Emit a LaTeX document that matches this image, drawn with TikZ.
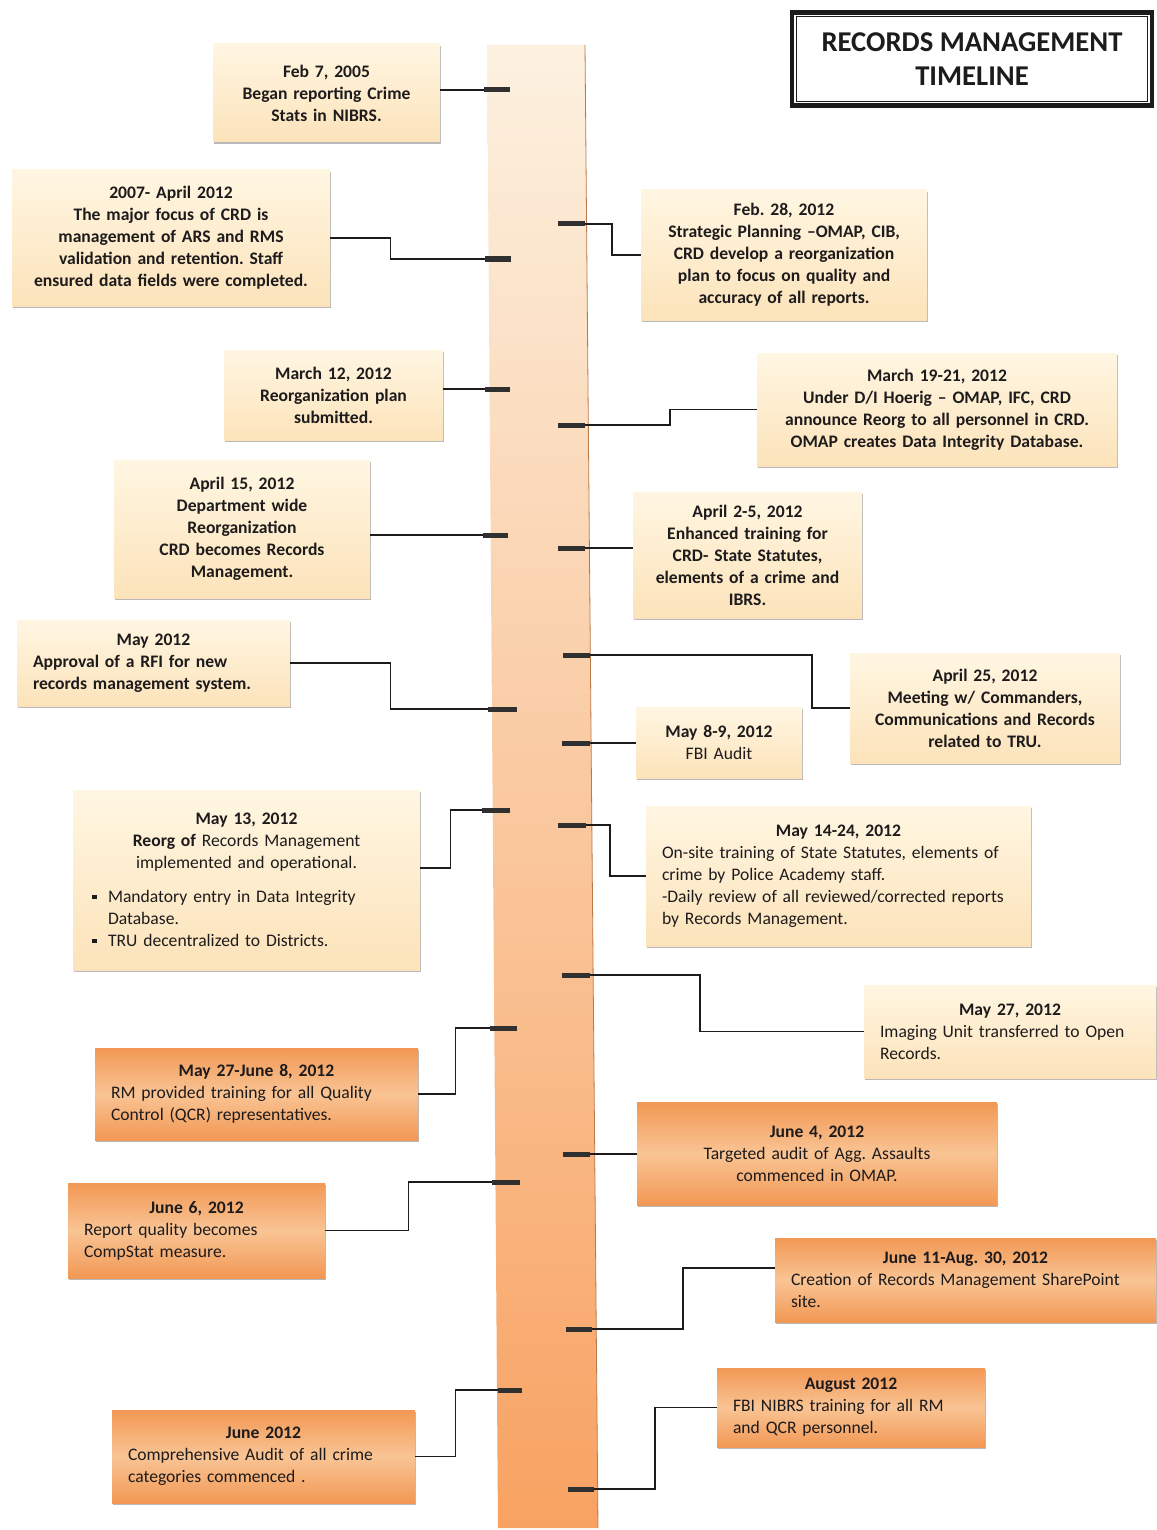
\documentclass[tikz,border=0pt]{standalone}
\usepackage{fontspec}
\setmainfont{Carlito}
\usetikzlibrary{shadows}
\definecolor{ink}{RGB}{30,27,28}
\definecolor{creamtop}{RGB}{255,246,226}
\definecolor{creambot}{RGB}{252,227,186}
\definecolor{orangeedge}{RGB}{242,152,84}
\definecolor{orangemid}{RGB}{249,196,148}
\definecolor{bartop}{RGB}{252,241,224}
\definecolor{barbot}{RGB}{248,162,98}
\definecolor{tickgray}{RGB}{48,48,48}
\newcommand{\when}[1]{{\centering\textbf{#1}\par}}
\newcommand{\sq}{\raisebox{2.5pt}{\rule{3.5pt}{3.5pt}}}
\tikzset{
  event/.style={inner xsep=12pt, inner ysep=4pt, text=ink,
    font=\fontsize{13.2}{16.5}\selectfont,
    drop shadow={shadow xshift=1pt, shadow yshift=-1.5pt, opacity=.55}},
  pale/.style={event, top color=creamtop, bottom color=creambot},
  hot/.style={event, top color=orangeedge, bottom color=orangeedge, middle color=orangemid},
  tickmark/.style={tickgray, line width=3.75pt},
  link/.style={ink, line width=1.1pt},
}
\frenchspacing

\begin{document}
\begin{tikzpicture}[x=0.75pt,y=-0.75pt]
                \useasboundingbox (0,0) rectangle (1156,1530);
                \shade[top color=bartop, bottom color=barbot] (487,45) -- (585,45) -- (598,1528) -- (498,1528) -- cycle;
                \draw[barbot!75!black, line width=0.6pt] (585,45) -- (598,1528);

                \node[draw=ink, line width=3.5pt, fill=white, minimum width=270pt, minimum height=70pt, align=center, font=\fontsize{21.5}{25.5}\selectfont\bfseries, text=ink] (title) at (972,59) {RECORDS MANAGEMENT\\TIMELINE};
                \draw[ink, line width=1pt] ([xshift=5pt,yshift=-5pt]title.north west) rectangle ([xshift=-5pt,yshift=5pt]title.south east);

                \node[pale, text width=146.25pt, minimum height=73.5pt, align=center] (feb05) at (326.5,93) {\bfseries\when{Feb 7, 2005}Began reporting Crime\\Stats in NIBRS.};
                \node[pale, text width=214.5pt, minimum height=102pt, align=center] (crd07) at (171,238) {\bfseries\when{2007- April 2012}The major focus of CRD is\\management of ARS and RMS\\validation and retention. Staff\\ensured data fields were completed.};
                \node[pale, text width=190.5pt, minimum height=97.5pt, align=center] (feb28) at (784,255) {\bfseries\when{Feb. 28, 2012}Strategic Planning –OMAP, CIB,\\CRD develop a reorganization\\plan to focus on quality and\\accuracy of all reports.};
                \node[pale, text width=140.25pt, minimum height=67.5pt, align=center] (mar12) at (333.5,395) {\bfseries\when{March 12, 2012}Reorganization plan\\submitted.};
                \node[pale, text width=246pt, minimum height=84.75pt, align=center] (mar19) at (937,409.5) {\bfseries\when{March 19-21, 2012}Under D/I Hoerig – OMAP, IFC, CRD\\announce Reorg to all personnel in CRD.\\OMAP creates Data Integrity Database.};
                \node[pale, text width=168pt, minimum height=103.5pt, align=center] (apr15) at (242,529) {\bfseries\when{April 15, 2012}Department wide\\Reorganization\\CRD becomes Records\\Management.};
                \node[pale, text width=147.75pt, minimum height=94.5pt, align=center] (apr02) at (747.5,555) {\bfseries\when{April 2-5, 2012}Enhanced training for\\CRD- State Statutes,\\elements of a crime and\\IBRS.};
                \node[pale, text width=180.75pt, minimum height=64.5pt, align=left] (may12) at (153.5,663) {\bfseries\when{May 2012}Approval of a RFI for new\\records management system.};
                \node[pale, text width=178.5pt, minimum height=82.5pt, align=center] (apr25) at (985,708) {\bfseries\when{April 25, 2012}Meeting w/ Commanders,\\Communications and Records\\related to TRU.};
                \node[pale, text width=100.5pt, minimum height=53.25pt, align=center] (may08) at (719,742.5) {\when{May 8-9, 2012}FBI Audit};
                \node[pale, text width=236.25pt, minimum height=135pt, align=left] (may13) at (246.5,880) {\when{May 13, 2012}{\centering\textbf{Reorg of} Records Management\\implemented and operational.\par}\vspace{9pt}\hspace*{2.25pt}\sq\hspace{8.5pt}Mandatory entry in Data Integrity\\\hspace*{14.25pt}Database.\\\hspace*{2.25pt}\sq\hspace{8.5pt}TRU decentralized to Districts.};
                \node[pale, text width=264.75pt, minimum height=105pt, align=left] (may14) at (838.5,876) {\when{May 14-24, 2012}On-site training of State Statutes, elements of\\crime by Police Academy staff.\\-Daily review of all reviewed/corrected reports\\by Records Management.};
                \node[pale, text width=195pt, minimum height=69.75pt, align=left] (may27) at (1010,1031.5) {\when{May 27, 2012}Imaging Unit transferred to Open\\Records.};
                \node[hot, text width=218.25pt, minimum height=69pt, align=left] (qcr) at (256.5,1094) {\when{May 27-June 8, 2012}RM provided training for all Quality\\Control (QCR) representatives.};
                \node[hot, text width=246pt, minimum height=77.25pt, align=center] (jun04) at (817,1153.5) {\when{June 4, 2012}Targeted audit of Agg. Assaults\\commenced in OMAP.};
                \node[hot, text width=168.75pt, minimum height=71.25pt, align=left] (jun06) at (196.5,1230.5) {\when{June 6, 2012}Report quality becomes\\CompStat measure.};
                \node[hot, text width=261.75pt, minimum height=63pt, align=left] (jun11) at (965.5,1280) {\when{June 11-Aug. 30, 2012}Creation of Records Management SharePoint\\site.};
                \node[hot, text width=177pt, minimum height=59.25pt, align=left] (aug12) at (851,1407.5) {\when{August 2012}FBI NIBRS training for all RM\\and QCR personnel.};
                \node[hot, text width=203.25pt, minimum height=69.75pt, align=left] (jun12) at (263.5,1456.5) {\when{June 2012}Comprehensive Audit of all crime\\categories commenced .};

                \coordinate (t1) at (484,90);
                \coordinate (t2) at (485,259);
                \coordinate (t3) at (585,224);
                \coordinate (t4) at (485,389);
                \coordinate (t5) at (585,425);
                \coordinate (t6) at (483,535);
                \coordinate (t7) at (585,548);
                \coordinate (t8) at (488,709);
                \coordinate (t9) at (590,655);
                \coordinate (t10) at (590,743);
                \coordinate (t11) at (482,810);
                \coordinate (t12) at (586,825);
                \coordinate (t13) at (590,975);
                \coordinate (t14) at (490,1028);
                \coordinate (t15) at (590,1154);
                \coordinate (t16) at (492,1182);
                \coordinate (t17) at (592,1329);
                \coordinate (t18) at (594,1489);
                \coordinate (t19) at (498,1390);

                \draw[link] (t1 -| feb05.east) -- (t1);
                \draw[link] (crd07.east) -- ++(60,0) |- (t2);
                \draw[link] (t3) -- ++(27,0) |- (feb28.west);
                \draw[link] (t4 -| mar12.east) -- (t4);
                \draw[link] (t5) -- ++(85,0) |- (mar19.west);
                \draw[link] (t6 -| apr15.east) -- (t6);
                \draw[link] (t7) -- (t7 -| apr02.west);
                \draw[link] (may12.east) -- ++(100,0) |- (t8);
                \draw[link] (t9) -- ++(222,0) |- (apr25.west);
                \draw[link] (t10) -- (t10 -| may08.west);
                \draw[link] ([yshift=9pt]may13.east) -- ++(30,0) |- (t11);
                \draw[link] (t12) -- ++(24,0) |- (may14.west);
                \draw[link] (t13) -- ++(110,0) |- (may27.west);
                \draw[link] (qcr.east) -- ++(37,0) |- (t14);
                \draw[link] (t15) -- (t15 -| jun04.west);
                \draw[link] (jun06.east) -- ++(83,0) |- (t16);
                \draw[link] (t17) -- ++(91,0) |- ([yshift=9pt]jun11.west);
                \draw[link] (t18) -- ++(61,0) |- (aug12.west);
                \draw[link] (jun12.east) -- ++(40,0) |- (t19);

                \draw[tickmark] (t1) -- ++(26,0);
                \draw[tickmark] (t2) -- ++(26,0);
                \draw[tickmark] (t3) -- ++(-27,0);
                \draw[tickmark] (t4) -- ++(25,0);
                \draw[tickmark] (t5) -- ++(-27,0);
                \draw[tickmark] (t6) -- ++(25,0);
                \draw[tickmark] (t7) -- ++(-27,0);
                \draw[tickmark] (t8) -- ++(29,0);
                \draw[tickmark] (t9) -- ++(-27,0);
                \draw[tickmark] (t10) -- ++(-28,0);
                \draw[tickmark] (t11) -- ++(28,0);
                \draw[tickmark] (t12) -- ++(-28,0);
                \draw[tickmark] (t13) -- ++(-28,0);
                \draw[tickmark] (t14) -- ++(27,0);
                \draw[tickmark] (t15) -- ++(-27,0);
                \draw[tickmark] (t16) -- ++(28,0);
                \draw[tickmark] (t17) -- ++(-26,0);
                \draw[tickmark] (t18) -- ++(-26,0);
                \draw[tickmark] (t19) -- ++(24,0);
            \end{tikzpicture}
\end{document}
